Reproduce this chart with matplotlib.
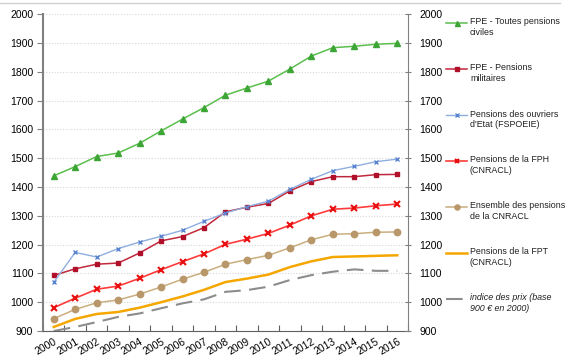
import numpy as np
import matplotlib
matplotlib.use("Agg")
import matplotlib.pyplot as plt
from matplotlib.lines import Line2D

plt.rcParams['font.family'] = ['Liberation Sans', 'DejaVu Sans']
plt.rcParams['font.size'] = 7.5

years = [str(y) for y in range(2000, 2017)]
fpe_civiles = [1439, 1471, 1506, 1518, 1552, 1595, 1636, 1676, 1719, 1744, 1768, 1810, 1855, 1884, 1889, 1896, 1899]
fpe_militaires = [1093, 1116, 1132, 1136, 1171, 1213, 1228, 1259, 1314, 1330, 1343, 1387, 1419, 1436, 1436, 1443, 1444]
ouvriers_etat = [1069, 1173, 1157, 1186, 1209, 1229, 1250, 1281, 1310, 1332, 1351, 1392, 1427, 1457, 1472, 1488, 1497]
fph = [981, 1014, 1045, 1056, 1083, 1113, 1141, 1168, 1201, 1219, 1239, 1268, 1300, 1323, 1327, 1335, 1341]
cnracl = [943, 975, 998, 1008, 1028, 1053, 1080, 1104, 1132, 1148, 1163, 1189, 1217, 1236, 1238, 1243, 1244]
fpt = [914, 942, 959, 966, 981, 1000, 1020, 1043, 1070, 1082, 1096, 1122, 1142, 1157, 1159, 1161, 1163]
prix = [900, 914, 931, 949, 961, 979, 996, 1010, 1036, 1042, 1054, 1077, 1094, 1106, 1114, 1109, 1109]

labels = ["FPE - Toutes pensions\nciviles",
          "FPE - Pensions\nmilitaires",
          "Pensions des ouvriers\nd'Etat (FSPOEIE)",
          "Pensions de la FPH\n(CNRACL)",
          "Ensemble des pensions\nde la CNRACL",
          "Pensions de la FPT\n(CNRACL)",
          "indice des prix (base\n900 € en 2000)"]

fig = plt.figure(figsize=(5.74, 3.64), dpi=100)
ax = fig.add_axes([43/574, 33/364, 365/574, 316.7/364])
x = np.arange(len(years))

styles = [
    dict(color="#5BBF4E", marker="^", ms=4.5, mfc="#3DA535", mec="#3DA535", lw=1.1),
    dict(color="#C0283C", marker="s", ms=3.3, mfc="#B0102A", mec="#B0102A", lw=1.1),
    dict(color="#8FAEE0", marker="x", ms=3, mfc="#5A84D0", mec="#5A84D0", lw=1.0, mew=1.0),
    dict(color="#FF3B3B", marker="x", ms=4, mec="#E81010", lw=1.2, mew=1.5),
    dict(color="#C9AE7E", marker="o", ms=4.6, mfc="#B8976A", mec="#B8976A", lw=1.1),
    dict(color="#F5A700", lw=1.8),
    dict(color="#8C8C8C", lw=1.5, dashes=(8, 4)),
]
series = [fpe_civiles, fpe_militaires, ouvriers_etat, fph, cnracl, fpt, prix]
for s, st in zip(series, styles):
    ax.plot(x, s, **st)

ax.set_xlim(-0.5, len(years) - 0.5)
ax.set_ylim(900, 2000)
ax.set_yticks(range(900, 2001, 100))
ax.set_xticks(np.arange(-0.5, len(years), 1.0))
ax.set_xticklabels([])
ax.set_xticks(x, minor=True)
ax.set_xticklabels(years, minor=True, rotation=30, ha="right", rotation_mode="anchor")
ax.tick_params(axis="x", which="minor", length=0, pad=4)
ax.tick_params(axis="x", which="major", length=4, color="#606060", direction="in")
ax.tick_params(axis="y", length=4, color="#808080", pad=3)
ax.grid(axis="y", color="#D8D8D8", ls=(0, (1, 1.5)), lw=0.8)
ax.set_axisbelow(True)
for side in ["top", "right"]:
    ax.spines[side].set_visible(False)
ax.spines["left"].set_color("#808080")
ax.spines["left"].set_linewidth(1.5)
ax.spines["bottom"].set_color("#606060")

ax2 = ax.twinx()
ax2.set_ylim(900, 2000)
ax2.set_yticks(range(900, 2001, 100))
ax2.tick_params(axis="y", length=4, color="#808080", direction="inout", pad=6)
for side in ["top", "left", "bottom"]:
    ax2.spines[side].set_visible(False)
ax2.spines["right"].set_color("#808080")

# legend drawn by hand so handles sit on the first line of each label
leg_y = [23, 69, 115, 161, 207, 253, 299]
for st, lab, yy in zip(styles, labels, leg_y):
    fy = 1 - yy / 364
    kw = dict(st)
    kw.pop("ms", None)
    ln = Line2D([446/574, 456.5/574, 467/574], [fy, fy, fy], transform=fig.transFigure, **kw)
    if "marker" in st:
        ln.set_markevery([1])
        ln.set_markersize(st["ms"] * 0.8)
    fig.add_artist(ln)
    style = "italic" if "indice" in lab else "normal"
    fig.text(470/574, fy + 5.5/364, lab, ha="left", va="top", fontsize=6.4,
             style=style, color="#202020", linespacing=1.25)

fig.add_artist(Line2D([0, 560/574], [1 - 3/364, 1 - 3/364], transform=fig.transFigure,
                      color="#D0D0D0", lw=1))

fig.savefig("out.png", dpi=100)
